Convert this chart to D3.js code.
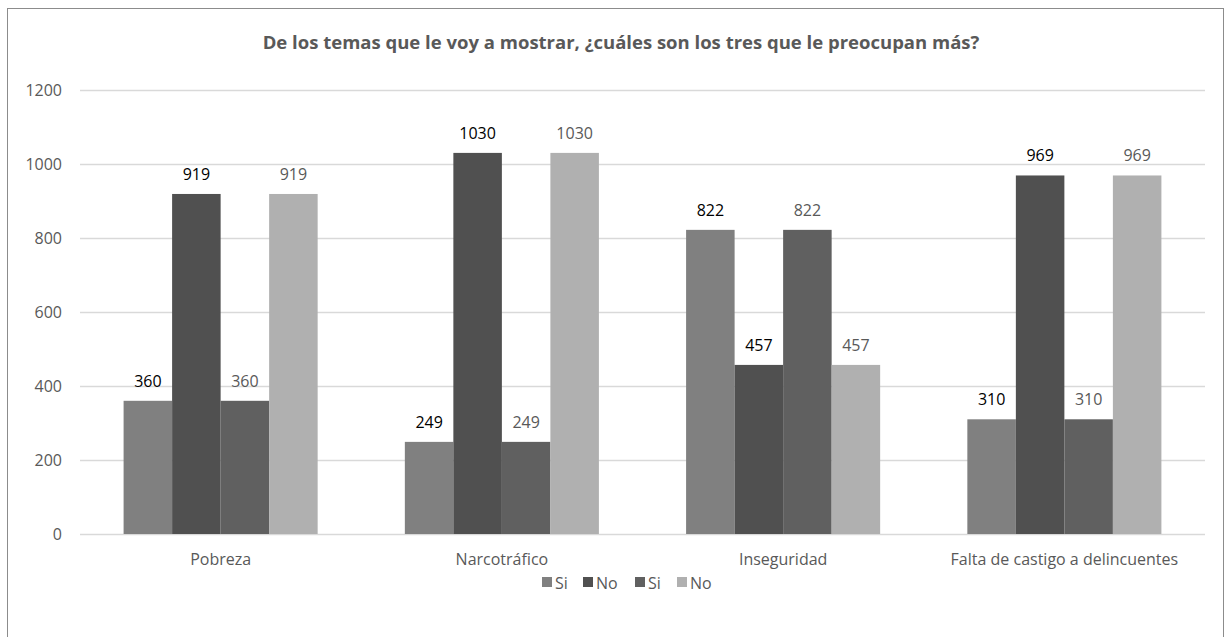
<!DOCTYPE html>
<meta charset="utf-8">
<script src="https://d3js.org/d3.v7.min.js"></script>
<html>
<head>
<style>
  body { margin: 0; background: #fff; font-family: "Open Sans", sans-serif; }
  text { font-family: "Open Sans", sans-serif; }
</style>
</head>
<body>
<div id="chart"></div>
<script>
// data
var categories = ["Pobreza", "Narcotráfico", "Inseguridad", "Falta de castigo a delincuentes"];
var seriesNames = ["Si", "No", "Si", "No"];
var si1 = [360, 249, 822, 310];
var no1 = [919, 1030, 457, 969];
var si2 = [360, 249, 822, 310];
var no2 = [919, 1030, 457, 969];
var yTicks = [0, 200, 400, 600, 800, 1000, 1200];

var allSeries = [si1, no1, si2, no2];
var colors = ["#808080", "#505050", "#606060", "#b0b0b0"];
var labelColors = ["#000", "#000", "#595959", "#595959"];

var W = 1232, H = 637;
var margin = {top: 90, right: 27, bottom: 103, left: 80};
var width = W - margin.left - margin.right,
    height = H - margin.top - margin.bottom;

var svg = d3.select("#chart").append("svg")
  .attr("width", W).attr("height", H);

// outer border
svg.append("rect")
  .attr("x", 7.5).attr("y", 8.5)
  .attr("width", 1216).attr("height", 640)
  .attr("fill", "none").attr("stroke", "#8c8c8c");

svg.append("text")
  .attr("x", 621).attr("y", 49)
  .attr("text-anchor", "middle")
  .style("font-size", "18.5px").style("font-weight", "bold")
  .style("fill", "#595959")
  .text("De los temas que le voy a mostrar, ¿cuáles son los tres que le preocupan más?");

var g = svg.append("g").attr("transform", "translate(" + margin.left + "," + margin.top + ")");

var x = d3.scaleBand().domain(categories).range([0, width]).paddingInner(0.31).paddingOuter(0.155);
var x1 = d3.scaleBand().domain(d3.range(4)).range([0, x.bandwidth()]);
var y = d3.scaleLinear().domain([0, 1200]).range([height, 0]);

// grid
g.selectAll(".grid").data(yTicks).enter().append("line")
  .attr("x1", 0).attr("x2", width)
  .attr("y1", function(d) { return y(d) + 0.5; })
  .attr("y2", function(d) { return y(d) + 0.5; })
  .attr("stroke", "#d9d9d9").attr("stroke-width", 1.5);

var yAxis = g.append("g")
  .call(d3.axisLeft(y).tickValues(yTicks).tickFormat(d3.format("d")).tickSize(0).tickPadding(18));
yAxis.select(".domain").remove();
yAxis.selectAll("text").style("font-size", "16px").style("fill", "#595959")
  .style("font-family", "'Open Sans', sans-serif");

var xAxis = g.append("g").attr("transform", "translate(0," + height + ")")
  .call(d3.axisBottom(x).tickSize(0).tickPadding(20));
xAxis.select(".domain").remove();
xAxis.selectAll("text").style("font-size", "16px").style("fill", "#595959")
  .style("font-family", "'Open Sans', sans-serif");

// bars
var groups = g.selectAll(".cat").data(categories).enter().append("g")
  .attr("transform", function(d) { return "translate(" + x(d) + ",0)"; });

groups.each(function(cat, ci) {
  var gg = d3.select(this);
  allSeries.forEach(function(s, si) {
    gg.append("rect")
      .attr("x", x1(si)).attr("width", x1.bandwidth())
      .attr("y", y(s[ci])).attr("height", height - y(s[ci]))
      .attr("fill", colors[si]);
    gg.append("text")
      .attr("x", x1(si) + x1.bandwidth() / 2)
      .attr("y", y(s[ci]) - 14)
      .attr("text-anchor", "middle")
      .style("font-size", "16px")
      .style("fill", labelColors[si])
      .text(s[ci]);
  });
});

// legend
var legend = svg.append("g").attr("transform", "translate(542,577)");
var offsets = [0, 41, 93, 135];
seriesNames.forEach(function(n, i) {
  var lg = legend.append("g").attr("transform", "translate(" + offsets[i] + ",0)");
  lg.append("rect").attr("width", 10).attr("height", 10).attr("fill", colors[i]);
  lg.append("text").attr("x", 13).attr("y", 12)
    .style("font-size", "16px").style("fill", "#595959").text(n);
});
</script>
</body>
</html>
